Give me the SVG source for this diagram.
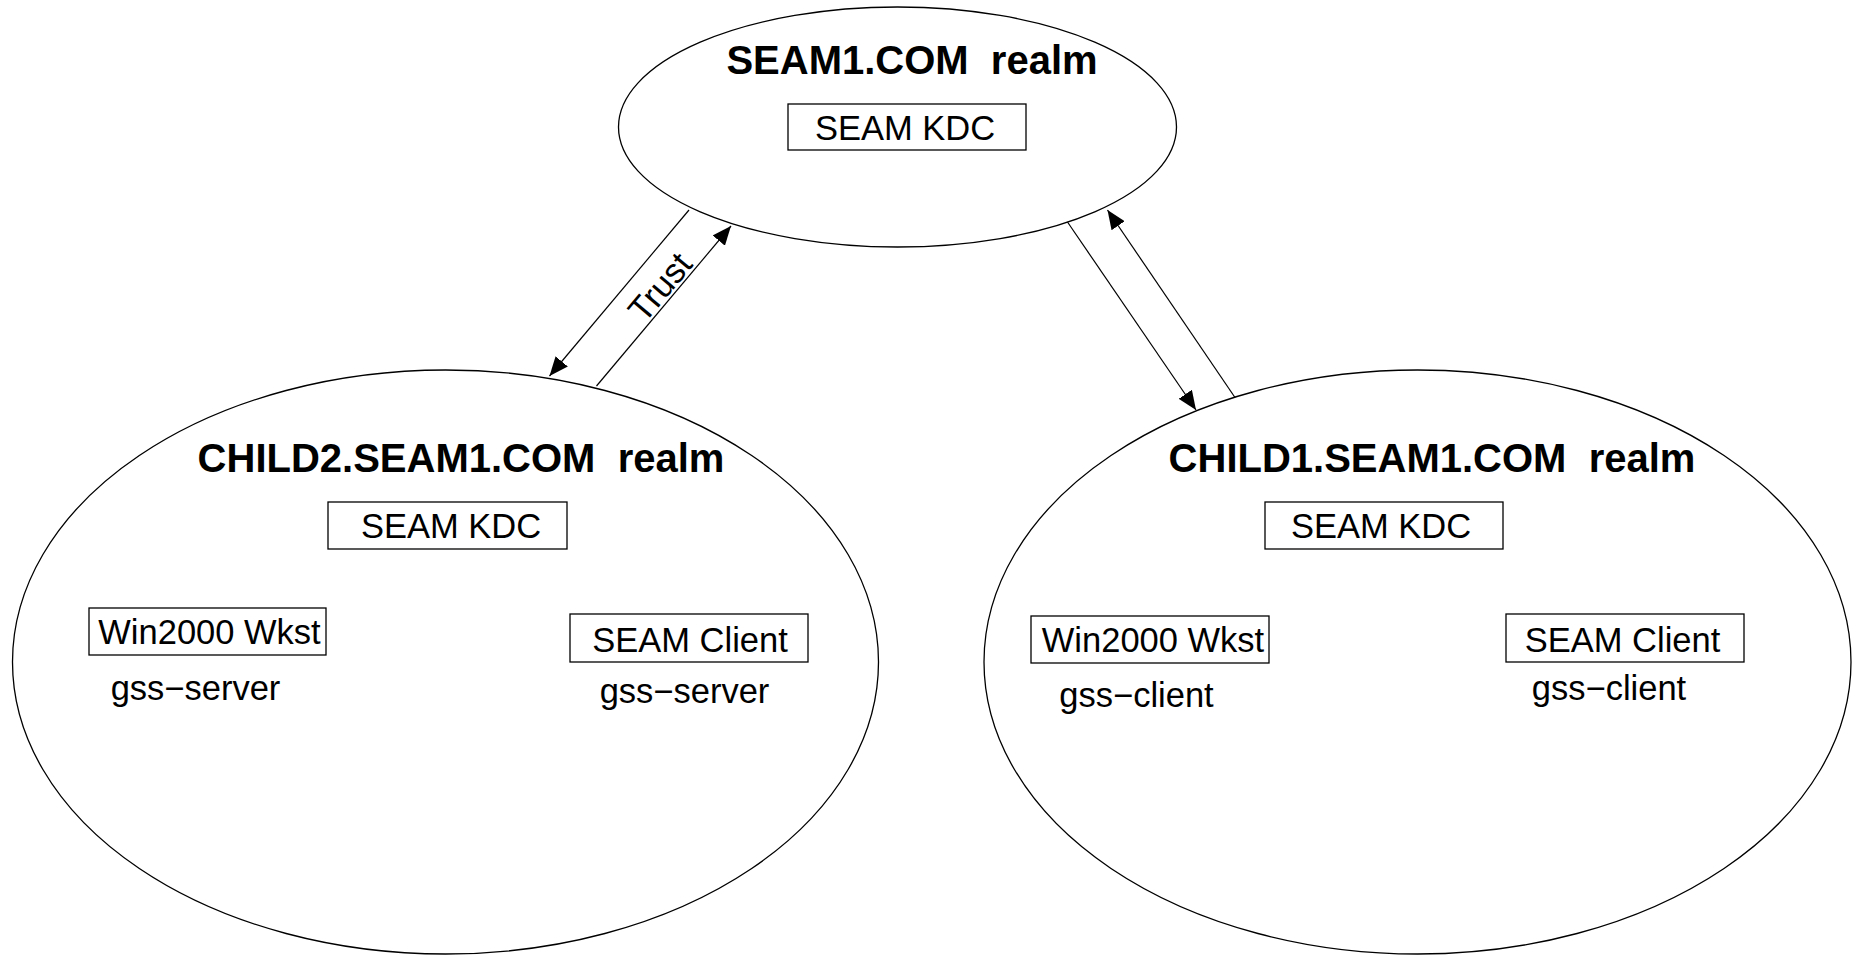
<svg xmlns="http://www.w3.org/2000/svg" width="1852" height="956" viewBox="0 0 1852 956">
<style>
.realm{fill:#fff;stroke:#000;stroke-width:1.3}
.box{fill:#fff;stroke:#000;stroke-width:1.3}
.title{font-family:"Liberation Sans",Arial,sans-serif;font-weight:bold;font-size:40px;fill:#000;text-anchor:middle}
.lbl{font-family:"Liberation Sans",Arial,sans-serif;font-size:34.5px;fill:#000;text-anchor:middle}
.conn{stroke:#000;stroke-width:1.2;fill:none;marker-end:url(#arr)}
</style>
<defs>
<marker id="arr" markerUnits="userSpaceOnUse" markerWidth="19" markerHeight="16" refX="19" refY="8" orient="auto">
<path d="M0,0 L19,8 L0,16 z" fill="#000"/>
</marker>
</defs>
<rect width="1852" height="956" fill="#fff"/>
<g id="seam1">
<ellipse class="realm" cx="897.5" cy="127" rx="279" ry="120"/>
<text class="title" x="912" y="74" xml:space="preserve">SEAM1.COM  realm</text>
<rect class="box" x="788" y="104" width="238" height="46"/>
<text class="lbl" x="905" y="140">SEAM KDC</text>
</g>
<g id="child2">
<ellipse class="realm" cx="445.5" cy="662" rx="433" ry="292"/>
<text class="title" x="461" y="472" xml:space="preserve">CHILD2.SEAM1.COM  realm</text>
<rect class="box" x="328" y="502" width="239" height="47"/>
<text class="lbl" x="451" y="538">SEAM KDC</text>
<rect class="box" x="89" y="608" width="237" height="47"/>
<text class="lbl" x="209.5" y="644">Win2000 Wkst</text>
<text class="lbl" x="195.5" y="700">gss−server</text>
<rect class="box" x="570" y="614" width="238" height="48"/>
<text class="lbl" x="690" y="652">SEAM Client</text>
<text class="lbl" x="684.5" y="703">gss−server</text>
</g>
<g id="child1">
<ellipse class="realm" cx="1417.5" cy="662" rx="433.5" ry="292"/>
<text class="title" x="1432" y="472" xml:space="preserve">CHILD1.SEAM1.COM  realm</text>
<rect class="box" x="1265" y="502" width="238" height="47"/>
<text class="lbl" x="1381" y="538">SEAM KDC</text>
<rect class="box" x="1031" y="616" width="238" height="47"/>
<text class="lbl" x="1153" y="652">Win2000 Wkst</text>
<text class="lbl" x="1136.5" y="707">gss−client</text>
<rect class="box" x="1506" y="614" width="238" height="48"/>
<text class="lbl" x="1622.5" y="652">SEAM Client</text>
<text class="lbl" x="1609" y="700">gss−client</text>
</g>
<g id="connectors">
<line class="conn" x1="689" y1="210" x2="549.5" y2="376"/>
<line class="conn" x1="596.5" y1="386" x2="731" y2="226"/>
<line class="conn" x1="1067.5" y1="222" x2="1196" y2="410"/>
<line class="conn" x1="1235" y1="397.5" x2="1107.5" y2="210"/>
<text class="lbl" transform="translate(660,287) rotate(-50)" x="0" y="12">Trust</text>
</g>
</svg>
